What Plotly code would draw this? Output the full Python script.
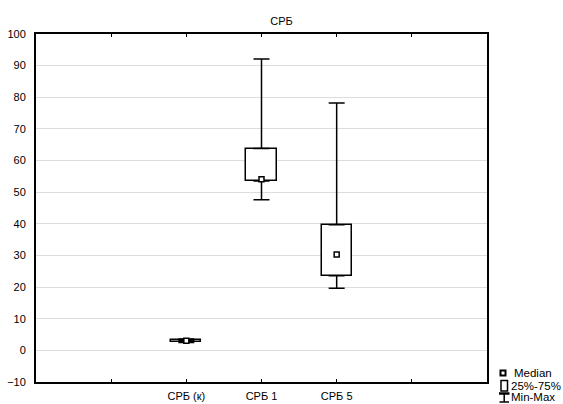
import plotly.graph_objects as go

# ---- data ----
categories = ["СРБ (к)", "СРБ 1", "СРБ 5"]
positions = [0, 1, 2]
mins = [2.5, 47.6, 19.6]
q1s = [2.8, 53.5, 23.6]
medians = [3.0, 54.1, 30.3]
q3s = [3.2, 63.8, 39.7]
maxs = [3.6, 92.1, 78.2]
y_ticks = [-10, 0, 10, 20, 30, 40, 50, 60, 70, 80, 90, 100]
legend_labels = ["Median", "25%-75%", "Min-Max"]
title_text = "СРБ"

FONT = "Liberation Sans, Arial, sans-serif"

# x-axis tick slots (empty slots on both sides of the categories)
x_slots = list(range(-2, 5))
x_text = []
for s in x_slots:
    x_text.append(categories[positions.index(s)] if s in positions else "")

fig = go.Figure()

# 25%-75% boxes
fig.add_trace(go.Bar(
    x=positions,
    base=q1s,
    y=[b - a for a, b in zip(q1s, q3s)],
    width=0.4,
    marker=dict(color="white", line=dict(color="black", width=1.5)),
    showlegend=False,
    hoverinfo="skip",
))

# upper whiskers
fig.add_trace(go.Scatter(
    x=positions, y=q3s, mode="markers",
    marker=dict(size=1, color="rgba(0,0,0,0)"),
    error_y=dict(type="data", symmetric=False,
                 array=[b - a for a, b in zip(q3s, maxs)],
                 arrayminus=[0] * len(q3s),
                 color="black", thickness=1.5, width=8),
    showlegend=False, hoverinfo="skip",
))
# lower whiskers
fig.add_trace(go.Scatter(
    x=positions, y=q1s, mode="markers",
    marker=dict(size=1, color="rgba(0,0,0,0)"),
    error_y=dict(type="data", symmetric=False,
                 array=[0] * len(q1s),
                 arrayminus=[a - b for a, b in zip(q1s, mins)],
                 color="black", thickness=1.5, width=8),
    showlegend=False, hoverinfo="skip",
))
# medians
fig.add_trace(go.Scatter(
    x=positions, y=medians, mode="markers",
    marker=dict(symbol="square", size=5, color="white",
                line=dict(color="black", width=1.5)),
    showlegend=False,
))

# ---- custom legend (paper coordinates) ----
L, R, T, B = 36, 487, 34, 382
def px(X):
    return (X - L) / (R - L)
def py(Y):
    return (B - Y) / (B - T)

shapes = [
    dict(type="rect", xref="paper", yref="paper",
         x0=px(500.5), x1=px(505.5), y0=py(375.5), y1=py(370.5),
         line=dict(color="black", width=2), fillcolor="white"),
    dict(type="rect", xref="paper", yref="paper",
         x0=px(501), x1=px(507.5), y0=py(391), y1=py(380.5),
         line=dict(color="black", width=1.5), fillcolor="white"),
    dict(type="line", xref="paper", yref="paper",
         x0=px(499), x1=px(509.5), y0=py(393.5), y1=py(393.5),
         line=dict(color="black", width=2.5)),
    dict(type="line", xref="paper", yref="paper",
         x0=px(504.2), x1=px(504.2), y0=py(393.5), y1=py(402),
         line=dict(color="black", width=1.5)),
    dict(type="line", xref="paper", yref="paper",
         x0=px(499.5), x1=px(509), y0=py(402), y1=py(402),
         line=dict(color="black", width=1.5)),
]
annotations = []
for lab, xx, yy in zip(legend_labels, [512, 508.5, 508.5], [373, 385.5, 396.5]):
    annotations.append(dict(
        text=lab, xref="paper", yref="paper", x=px(xx), y=py(yy),
        xanchor="left", yanchor="middle", showarrow=False,
        font=dict(family=FONT, size=11.5, color="black"),
    ))

fig.update_layout(
    template="none",
    width=563, height=404,
    margin=dict(l=L, r=563 - R, t=T, b=404 - B, pad=0, autoexpand=False),
    paper_bgcolor="white", plot_bgcolor="white",
    font=dict(family=FONT, size=11, color="black"),
    title=dict(text=title_text, x=0.5, xref="container", xanchor="center",
               y=1 - 21.5 / 404, yref="container", yanchor="middle",
               font=dict(family=FONT, size=11, color="black")),
    showlegend=False,
    shapes=shapes,
    annotations=annotations,
    bargap=0,
)
fig.update_xaxes(
    automargin=False,
    range=[-2, 4], tickvals=x_slots, ticktext=x_text,
    ticks="inside", ticklen=3, tickcolor="black", tickwidth=1,
    showline=True, linecolor="black", linewidth=2, mirror="ticks",
    showgrid=False, zeroline=False,
    tickfont=dict(family=FONT, size=11, color="black"),
    ticklabelstandoff=3,
)
fig.update_yaxes(
    automargin=False,
    range=[-10, 100], tickvals=y_ticks,
    ticks="", showline=True, linecolor="black", linewidth=2, mirror=True,
    showgrid=True, gridcolor="#dcdcdc", gridwidth=1, zeroline=False,
    tickfont=dict(family=FONT, size=11, color="black"),
    ticklabelstandoff=6,
)

fig.write_html("out.html")
